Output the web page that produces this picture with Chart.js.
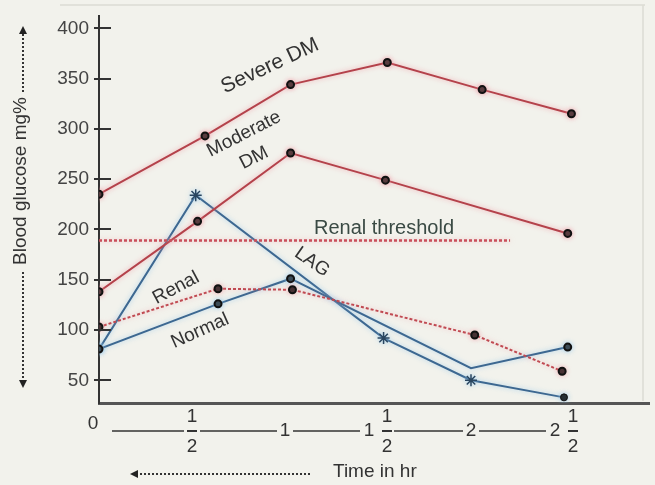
<!DOCTYPE html>
<html>
<head>
<meta charset="utf-8">
<script src="https://cdn.jsdelivr.net/npm/chart.js@4.4.1/dist/chart.umd.min.js"></script>
<style>
  html, body { margin: 0; padding: 0; background: #f2f2ec; }
</style>
</head>
<body>
<canvas id="myChart" width="655" height="485"></canvas>
<script>
// values (time in hr, glucose in mg%)
const severeTime = [0, 0.57, 1.03, 1.55, 2.06, 2.54];
const severeValues = [235, 293, 344, 366, 339, 315];

const moderateTime = [0, 0.53, 1.03, 1.54, 2.52];
const moderateValues = [138, 208, 276, 249, 196];

const renalTime = [0, 0.64, 1.04, 2.02, 2.49];
const renalValues = [103, 141, 140, 95, 59];

const normalTime = [0, 0.64, 1.03, 2.0, 2.52];
const normalValues = [81, 126, 151, 62, 83];

const lagTime = [0, 0.52, 1.53, 2.0, 2.5];
const lagValues = [81, 234, 92, 50, 33];

const thresholdTime = [0, 2.21];
const thresholdValues = [189, 189];

const yTicks = [50, 100, 150, 200, 250, 300, 350, 400];
// x labels: value, whole part, and whether a 1/2 follows
const xTickValues = [0, 0.5, 1, 1.5, 2, 2.5];
const xTickWhole = ["0", "", "1", "1", "2", "2"];
const xTickFrac = [false, true, false, true, false, true];

const BG = "#f2f2ec";
const RED = "#b4424b";
const BLUE = "#3d6891";
const INK = "#333";
const FONT = "'Liberation Sans', Arial, sans-serif";

function points(times, values) {
  return times.map((t, i) => ({ x: t, y: values[i] }));
}

// soft halo behind the lines, like the blurred scan
const haloPlugin = {
  id: "halo",
  beforeDatasetDraw(chart, args) {
    const ds = chart.data.datasets[args.index];
    chart.ctx.save();
    chart.ctx.shadowColor = ds.halo || "rgba(0,0,0,0)";
    chart.ctx.shadowBlur = 5;
  },
  afterDatasetDraw(chart) {
    chart.ctx.restore();
  },
};

function arrowHead(ctx, x, y, dir) {
  ctx.beginPath();
  if (dir === "left") {
    ctx.moveTo(x, y); ctx.lineTo(x + 8, y - 4); ctx.lineTo(x + 8, y + 4);
  } else if (dir === "up") {
    ctx.moveTo(x, y); ctx.lineTo(x - 4, y + 8); ctx.lineTo(x + 4, y + 8);
  } else {
    ctx.moveTo(x, y); ctx.lineTo(x - 4, y - 8); ctx.lineTo(x + 4, y - 8);
  }
  ctx.closePath();
  ctx.fill();
}

function rotatedText(ctx, text, x, y, deg, size, color) {
  ctx.save();
  ctx.translate(x, y);
  ctx.rotate(deg * Math.PI / 180);
  ctx.font = size + "px " + FONT;
  ctx.fillStyle = color;
  ctx.textAlign = "center";
  ctx.textBaseline = "middle";
  ctx.fillText(text, 0, 0);
  ctx.restore();
}

const decorPlugin = {
  id: "decor",
  afterDraw(chart) {
    const ctx = chart.ctx;
    const area = chart.chartArea;
    const xs = chart.scales.x;
    const ys = chart.scales.y;

    ctx.save();

    // faint frame of the scan
    ctx.strokeStyle = "#dcdcd4";
    ctx.lineWidth = 1.5;
    ctx.beginPath();
    ctx.moveTo(60, 5); ctx.lineTo(645, 5);
    ctx.moveTo(643, 5); ctx.lineTo(643, area.bottom - 2);
    ctx.stroke();

    // inner tick marks on the y axis
    ctx.strokeStyle = "#333";
    ctx.lineWidth = 2;
    ctx.beginPath();
    yTicks.forEach((v) => {
      const py = Math.round(ys.getPixelForValue(v));
      ctx.moveTo(area.left, py);
      ctx.lineTo(area.left + 12, py);
    });
    ctx.stroke();

    // time axis row: 0 ---- 1/2 ---- 1 ---- 1 1/2 ...
    const rowY = 431;
    ctx.strokeStyle = "#333";
    ctx.lineWidth = 1.5;
    ctx.beginPath();
    ctx.moveTo(area.left + 13, rowY);
    ctx.lineTo(xs.getPixelForValue(2.5) - 2, rowY);
    ctx.stroke();

    ctx.font = "19px " + FONT;
    ctx.textAlign = "center";
    ctx.textBaseline = "middle";
    xTickValues.forEach((v, i) => {
      const px = xs.getPixelForValue(v);
      const whole = xTickWhole[i];
      const frac = xTickFrac[i];
      if (v === 0) {
        ctx.fillStyle = BG;
        ctx.fillRect(px - 14, 412, 22, 22);
        ctx.fillStyle = INK;
        ctx.fillText(whole, px - 6, 424);
        return;
      }
      let fx = px;
      let left = px - 8;
      let right = px + 8;
      if (whole && frac) {
        fx = px + 9;
        left = px - 18;
        right = px + 16;
      }
      ctx.fillStyle = BG;
      ctx.fillRect(left, 410, right - left, 44);
      ctx.fillStyle = INK;
      if (whole) ctx.fillText(whole, frac ? px - 9 : px, rowY);
      if (frac) {
        ctx.fillText("1", fx, 417);
        ctx.fillText("2", fx, 447);
        ctx.fillRect(fx - 5, rowY - 1, 10, 2);
      }
    });

    // x axis title with dotted arrow
    ctx.fillStyle = INK;
    ctx.font = "19px " + FONT;
    ctx.textAlign = "left";
    ctx.fillText("Time in hr", 333, 472);
    ctx.strokeStyle = "#333";
    ctx.setLineDash([2, 2]);
    ctx.lineWidth = 2;
    ctx.beginPath();
    ctx.moveTo(310, 474); ctx.lineTo(136, 474);
    ctx.stroke();
    ctx.setLineDash([]);
    ctx.fillStyle = "#222";
    arrowHead(ctx, 130, 474, "left");

    // y axis title with dotted arrows
    rotatedText(ctx, "Blood glucose mg%", 21, 181, -90, 19, INK);
    ctx.setLineDash([2, 2]);
    ctx.beginPath();
    ctx.moveTo(23, 92); ctx.lineTo(23, 34);
    ctx.moveTo(23, 272); ctx.lineTo(23, 380);
    ctx.stroke();
    ctx.setLineDash([]);
    ctx.fillStyle = "#222";
    arrowHead(ctx, 23, 26, "up");
    arrowHead(ctx, 23, 388, "down");

    // curve labels
    rotatedText(ctx, "Severe DM", 270, 66, -25, 21, INK);
    rotatedText(ctx, "Moderate", 244, 134, -27, 19, INK);
    rotatedText(ctx, "DM", 254, 158, -27, 19, INK);
    rotatedText(ctx, "Renal threshold", 384, 228, 0, 20, "#3a4a44");
    rotatedText(ctx, "LAG", 312, 262, 35, 19, INK);
    rotatedText(ctx, "Renal", 176, 288, -28, 19, INK);
    rotatedText(ctx, "Normal", 200, 331, -24, 19, INK);

    ctx.restore();
  },
};

const lagStyles = ["circle", "star", "star", "star", "circle"];

new Chart(document.getElementById("myChart"), {
  type: "line",
  data: {
    datasets: [
      {
        label: "Renal threshold",
        data: points(thresholdTime, thresholdValues),
        borderColor: "#c94f5a",
        borderWidth: 2.5,
        borderDash: [3, 2],
        pointRadius: 0,
        halo: "rgba(240,150,160,0.6)",
      },
      {
        label: "Severe DM",
        data: points(severeTime, severeValues),
        borderColor: RED,
        borderWidth: 2,
        pointRadius: 3.5,
        pointBackgroundColor: "#111",
        pointBorderColor: "#111",
        halo: "rgba(240,150,160,0.8)",
      },
      {
        label: "Moderate DM",
        data: points(moderateTime, moderateValues),
        borderColor: RED,
        borderWidth: 2,
        pointRadius: 3.5,
        pointBackgroundColor: "#111",
        pointBorderColor: "#111",
        halo: "rgba(240,150,160,0.8)",
      },
      {
        label: "Renal",
        data: points(renalTime, renalValues),
        borderColor: "#c04a52",
        borderWidth: 2,
        borderDash: [3, 2],
        pointRadius: 3.5,
        pointBackgroundColor: "#111",
        pointBorderColor: "#111",
        halo: "rgba(240,150,160,0.6)",
      },
      {
        label: "Normal",
        data: points(normalTime, normalValues),
        borderColor: BLUE,
        borderWidth: 2,
        pointRadius: [3.5, 3.5, 3.5, 0, 3.5],
        pointBackgroundColor: "#111",
        pointBorderColor: "#111",
        halo: "rgba(150,200,235,0.8)",
      },
      {
        label: "LAG",
        data: points(lagTime, lagValues),
        borderColor: BLUE,
        borderWidth: 2,
        pointStyle: lagStyles,
        pointRadius: [3.5, 6, 6, 6, 3.5],
        pointBorderWidth: [1, 1.5, 1.5, 1.5, 1],
        pointBackgroundColor: "#111",
        pointBorderColor: ["#111", "#2a4660", "#2a4660", "#2a4660", "#111"],
        halo: "rgba(150,200,235,0.8)",
      },
    ],
  },
  options: {
    responsive: false,
    animation: false,
    layout: { padding: { top: 12, right: 0, left: 0, bottom: 0 } },
    plugins: {
      legend: { display: false },
      tooltip: { enabled: false },
    },
    scales: {
      x: {
        type: "linear",
        min: 0,
        max: 2.957,
        grid: { display: false, drawTicks: false },
        border: { color: "#555", width: 3 },
        ticks: { display: false },
        afterFit(scale) {
          scale.height = 82;
        },
      },
      y: {
        type: "linear",
        min: 27.4,
        max: 411.8,
        grid: { drawOnChartArea: false, tickLength: 5, color: "#333", lineWidth: 2 },
        border: { color: "#333", width: 2 },
        ticks: {
          color: "#444",
          padding: 5,
          font: { family: FONT, size: 19 },
        },
        afterBuildTicks(scale) {
          scale.ticks = yTicks.map((v) => ({ value: v }));
        },
        afterFit(scale) {
          scale.width = 99;
        },
      },
    },
  },
  plugins: [haloPlugin, decorPlugin],
});
</script>
</body>
</html>
